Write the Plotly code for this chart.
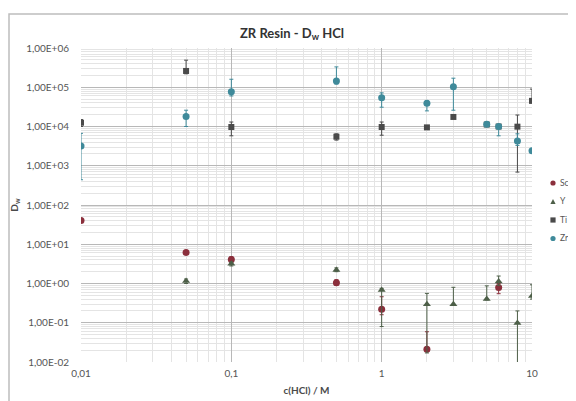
import plotly.graph_objects as go

# ---- data ----
sc_x = [0.01, 0.05, 0.1, 0.5, 1, 2, 6]
sc_y = [40, 6.2, 4.1, 1.05, 0.22, 0.021, 0.79]
sc_hi = [42, 6.8, 4.8, 1.25, 0.46, 0.059, 1.0]
sc_lo = [38, 5.6, 3.5, 0.9, 0.16, 0.019, 0.55]

y_x = [0.05, 0.1, 0.5, 1, 2, 3, 5, 6, 8, 10]
y_y = [1.16, 3.2, 2.2, 0.68, 0.295, 0.295, 0.40, 1.12, 0.098, 0.48]
y_hi = [1.3, 3.5, 2.5, 0.75, 0.56, 0.8, 0.87, 1.55, 0.2, 0.93]
y_lo = [1.0, 2.8, 2.0, 0.08, 0.017, 0.28, 0.38, 0.9, 0.005, 0.4]

ti_x = [0.01, 0.05, 0.1, 0.5, 1, 2, 3, 5, 6, 8, 10]
ti_y = [1.25e4, 2.6e5, 9.7e3, 5.5e3, 9.7e3, 9.5e3, 1.75e4, 1.12e4, 1.0e4, 9.9e3, 4.5e4]
ti_hi = [1.5e4, 4.9e5, 1.3e4, 6.5e3, 1.3e4, 1.0e4, 1.8e4, 1.2e4, 1.1e4, 1.96e4, 9.0e4]
ti_lo = [1.0e4, 2.2e5, 5.8e3, 4.5e3, 6.0e3, 9.0e3, 1.7e4, 1.0e4, 9.0e3, 6.9e2, 4.0e4]

zr_x = [0.01, 0.05, 0.1, 0.5, 1, 2, 3, 5, 6, 8, 10]
zr_y = [3.2e3, 1.8e4, 7.7e4, 1.44e5, 5.4e4, 3.9e4, 1.03e5, 1.14e4, 1.0e4, 4.3e3, 2.4e3]
zr_hi = [6.7e3, 2.6e4, 1.6e5, 3.3e5, 7.2e4, 4.5e4, 1.7e5, 1.3e4, 1.1e4, 6.5e3, 2.6e3]
zr_lo = [4.4e2, 1.0e4, 6.0e4, 1.2e5, 3.1e4, 2.5e4, 2.6e4, 1.0e4, 5.8e3, 3.3e3, 2.2e3]

y_tickvals = [1e-2, 1e-1, 1e0, 1e1, 1e2, 1e3, 1e4, 1e5, 1e6]
y_ticktext = ["1,00E-02", "1,00E-01", "1,00E+00", "1,00E+01", "1,00E+02",
              "1,00E+03", "1,00E+04", "1,00E+05", "1,00E+06"]
x_tickvals = [0.01, 0.1, 1, 10]
x_ticktext = ["0,01", "0,1", "1", "10"]

series = [
    ("Sc", sc_x, sc_y, sc_hi, sc_lo, "#8b2f3c", "circle", 7),
    ("Y", y_x, y_y, y_hi, y_lo, "#4d5f48", "triangle-up", 7),
    ("Ti", ti_x, ti_y, ti_hi, ti_lo, "#4a4a4a", "square", 6),
    ("Zr", zr_x, zr_y, zr_hi, zr_lo, "#3f8a9a", "circle", 7),
]

# page has an 8px body margin: work in page pixels, convert to figure pixels
OFF = 8
W, H = 576 - OFF, 401 - OFF
L, R, T, B = 81 - OFF, 576 - 532, 48 - OFF, 401 - 362
pw, ph = W - L - R, H - T - B

def px(xpage):
    return (xpage - OFF - L) / pw

def py(ypage):
    return (H - B - (ypage - OFF)) / ph

fig = go.Figure()
shapes = [dict(type="rect", xref="paper", yref="paper",
               x0=px(9), x1=px(590), y0=py(410), y1=py(14),
               line=dict(color="#bdbdbd", width=1.5), fillcolor="rgba(0,0,0,0)", layer="below")]
annotations = []
legend_y = [183, 201.5, 220, 238.5]
for i, (name, xs, ys, his, los, col, sym, sz) in enumerate(series):
    plus = [h - v for h, v in zip(his, ys)]
    minus = [v - l for l, v in zip(los, ys)]
    fig.add_trace(go.Scatter(
        x=xs, y=ys, mode="markers", name=name, showlegend=False,
        marker=dict(color=col, symbol=sym, size=sz),
        error_y=dict(type="data", symmetric=False, array=plus, arrayminus=minus,
                     color=col, thickness=1, width=2),
    ))
    # custom legend entry (marker glyph + label)
    cx, cy, r = 553, legend_y[i], 2.6
    if sym == "circle":
        shapes.append(dict(type="circle", xref="paper", yref="paper",
                           x0=px(cx - r), x1=px(cx + r), y0=py(cy + r), y1=py(cy - r),
                           line=dict(width=0), fillcolor=col))
    elif sym == "square":
        shapes.append(dict(type="rect", xref="paper", yref="paper",
                           x0=px(cx - r), x1=px(cx + r), y0=py(cy + r), y1=py(cy - r),
                           line=dict(width=0), fillcolor=col))
    else:
        shapes.append(dict(type="path", xref="paper", yref="paper",
                           path=f"M {px(cx - r)},{py(cy + r)} L {px(cx + r)},{py(cy + r)} L {px(cx)},{py(cy - r)} Z",
                           line=dict(width=0), fillcolor=col))
    annotations.append(dict(xref="paper", yref="paper", x=px(558), y=py(cy),
                            xanchor="left", yanchor="middle", text=name, showarrow=False,
                            font=dict(size=8.5, color="#555555")))

fig.update_layout(
    width=W, height=H,
    margin=dict(l=L, r=R, t=T, b=B, autoexpand=False),
    paper_bgcolor="white", plot_bgcolor="white",
    font=dict(family="Lato, Liberation Sans, sans-serif", color="#555555", size=10),
    title=dict(text="<b>ZR Resin - D<sub>w</sub> HCl</b>", x=0.5, xanchor="center",
               y=1 - (33 - OFF) / H, yanchor="middle", yref="container",
               font=dict(size=13, color="#333333")),
    showlegend=False,
    xaxis=dict(type="log", range=[-2, 1], tickvals=x_tickvals, ticktext=x_ticktext,
               showgrid=True, gridcolor="#b8b8b8", gridwidth=1,
               minor=dict(showgrid=True, gridcolor="#e4e4e4", gridwidth=1, dtick="D1"),
               zeroline=False, showline=False, ticks="", ticklabelstandoff=4,
               tickfont=dict(size=10, color="#555555"),
               title=dict(text="<b>c(HCl) / M</b>", font=dict(size=10, color="#4a4a4a"), standoff=8)),
    yaxis=dict(type="log", range=[-2, 6], tickvals=y_tickvals, ticktext=y_ticktext,
               showgrid=True, gridcolor="#b8b8b8", gridwidth=1,
               minor=dict(showgrid=True, gridcolor="#e4e4e4", gridwidth=1, dtick="D1"),
               zeroline=False, showline=False, ticks="", ticklabelstandoff=11,
               tickfont=dict(size=10, color="#555555"),
               title=dict(text="<b>D<sub>w</sub></b>", font=dict(size=10, color="#4a4a4a"), standoff=8)),
    shapes=shapes,
    annotations=annotations,
)

fig.write_html("out.html")
